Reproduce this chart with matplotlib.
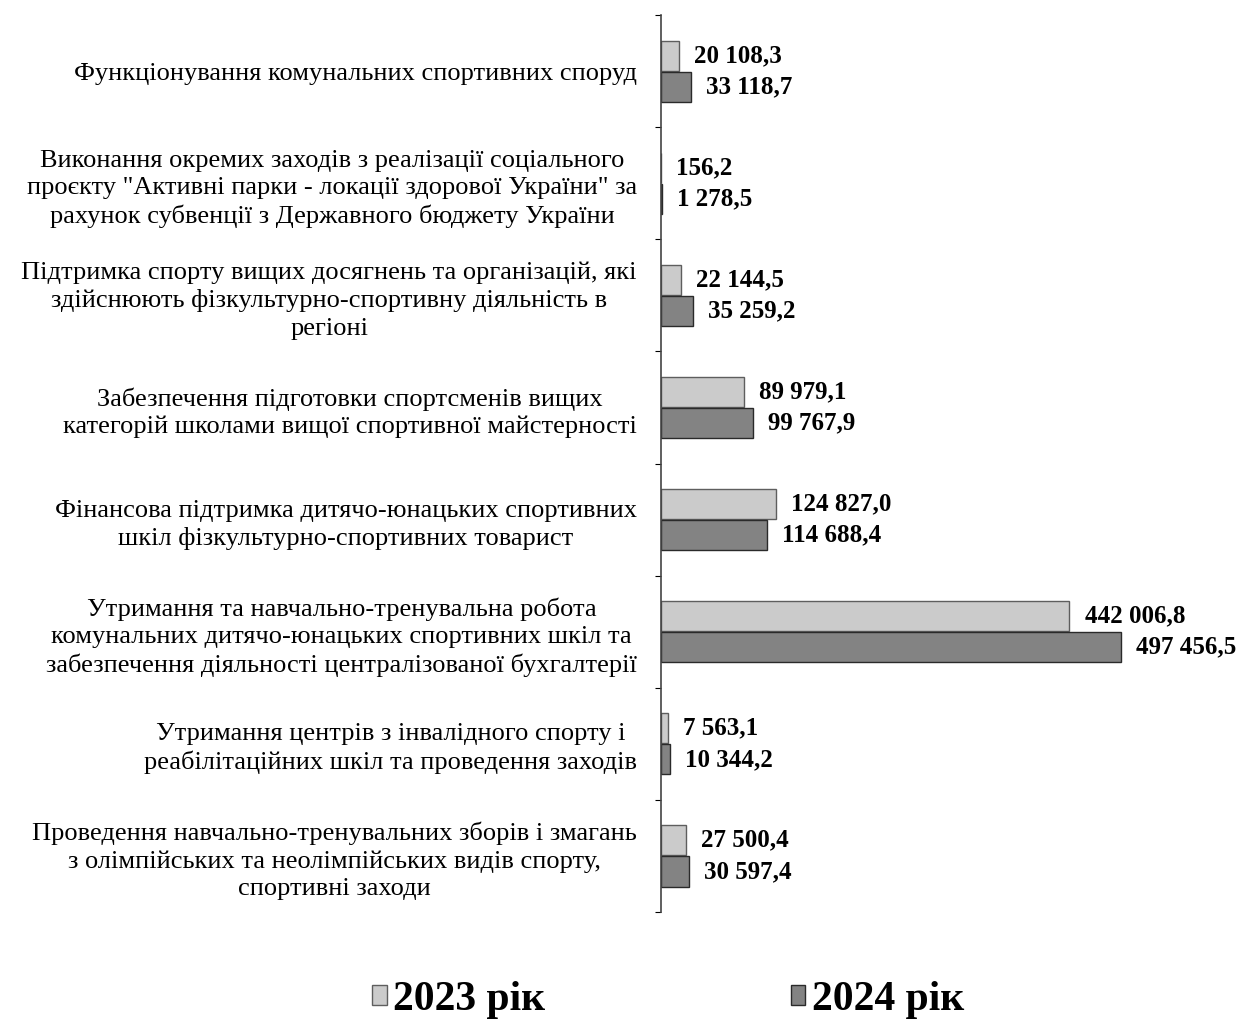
import numpy as np
import matplotlib
matplotlib.use('Agg')
import matplotlib.pyplot as plt

plt.rcParams['font.family'] = ['Liberation Serif', 'DejaVu Serif']

# categories, top to bottom
categories = [
    'Функціонування комунальних спортивних споруд',
    'Виконання окремих заходів з реалізації соціального\n'
    'проєкту "Активні парки - локації здорової України" за\n'
    'рахунок субвенції з Державного бюджету України',
    'Підтримка спорту вищих досягнень та організацій, які\n'
    'здійснюють фізкультурно-спортивну діяльність в\nрегіоні',
    'Забезпечення підготовки спортсменів вищих\n'
    'категорій школами вищої спортивної майстерності',
    'Фінансова підтримка дитячо-юнацьких спортивних\n'
    'шкіл фізкультурно-спортивних товарист',
    'Утримання та навчально-тренувальна робота\n'
    'комунальних дитячо-юнацьких спортивних шкіл та\n'
    'забезпечення діяльності централізованої бухгалтерії',
    'Утримання центрів з інвалідного спорту і\n'
    'реабілітаційних шкіл та проведення заходів',
    'Проведення навчально-тренувальних зборів і змагань\n'
    'з олімпійських та неолімпійських видів спорту,\nспортивні заходи',
]
values_2023 = [20108.3, 156.2, 22144.5, 89979.1, 124827.0, 442006.8, 7563.1, 27500.4]
values_2024 = [33118.7, 1278.5, 35259.2, 99767.9, 114688.4, 497456.5, 10344.2, 30597.4]
series_names = ['2023 рік', '2024 рік']


def fmt(v):
    # 124827.0 -> "124 827,0"
    s = f'{v:,.1f}'
    return s.replace(',', ' ').replace('.', ',')


fig = plt.figure(figsize=(12.44, 10.21), dpi=100)
ax = fig.add_axes([0.531, 0.107, 0.42, 0.878])

y = np.arange(len(categories))
h = 0.27
b1 = ax.barh(y - 0.14, values_2023, height=h, color='#cbcbcb',
             edgecolor='#5e5e5e', linewidth=1.0, label=series_names[0])
b2 = ax.barh(y + 0.14, values_2024, height=h, color='#838383',
             edgecolor='#2a2a2a', linewidth=1.0, label=series_names[1])

for bars, vals in [(b1, values_2023), (b2, values_2024)]:
    for rect, v in zip(bars, vals):
        ax.annotate(fmt(v), (rect.get_width(), rect.get_y() + rect.get_height() / 2),
                    xytext=(11, 0), textcoords='offset points',
                    ha='left', va='center', fontsize=18, fontweight='bold')

ax.set_ylim(len(categories) - 0.5, -0.5)
ax.set_xlim(0, 565000)

ax.set_yticks(y)
ax.set_yticklabels(categories, fontsize=19)
for lbl in ax.get_yticklabels():
    lbl.set_multialignment('center')
    lbl.set_linespacing(1.3)
ax.tick_params(axis='y', which='major', length=0, pad=17)
ax.set_yticks(np.arange(-0.5, len(categories)), minor=True)
ax.tick_params(axis='y', which='minor', length=4, width=0.8, direction='out')

ax.xaxis.set_visible(False)
for side in ['top', 'right', 'bottom']:
    ax.spines[side].set_visible(False)
ax.spines['left'].set_color('#444444')
ax.spines['left'].set_linewidth(1.2)

fig.legend(handles=[b1, b2], labels=series_names, loc='lower center',
           bbox_to_anchor=(0.537, -0.035), ncol=2, frameon=False,
           prop={'size': 30, 'weight': 'bold'}, handlelength=0.35,
           handleheight=0.35, handletextpad=0.15, columnspacing=5.9)

fig.savefig('out.png', dpi=100)
